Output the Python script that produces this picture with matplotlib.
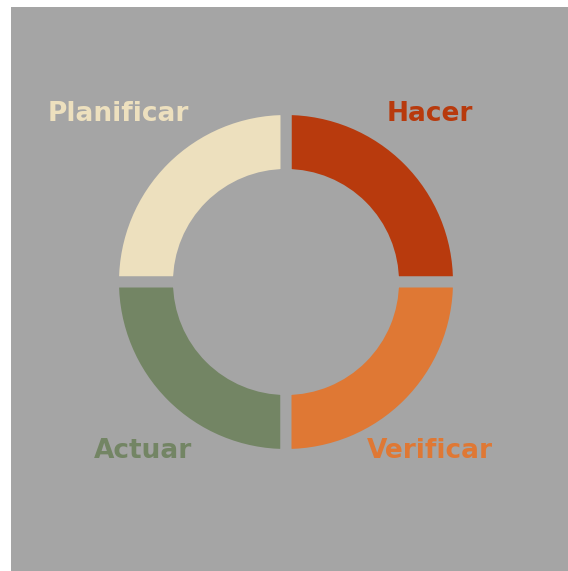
import matplotlib.pyplot as plt
from matplotlib.patches import Rectangle

# PDCA cycle, four equal parts
labels = ['Hacer', 'Planificar', 'Actuar', 'Verificar']
values = [25, 25, 25, 25]
colors = ['#b83a0d', '#ede0be', '#738564', '#df7834']

bg = '#a5a5a5'

fig = plt.figure(figsize=(5.68, 5.71), dpi=100)
fig.patch.set_facecolor('white')
fig.patches.append(Rectangle((11 / 568, 0), 1, 564 / 571, transform=fig.transFigure,
                             facecolor=bg, edgecolor='none', zorder=-5))

ax = fig.add_axes([0, 0, 1, 1])
ax.set_facecolor('none')

cx, cy = 286, 571 - 282
gap = 11
ax.pie(values, colors=colors, startangle=0, counterclock=True,
       radius=167 + gap / 2, center=(cx, cy),
       wedgeprops=dict(width=54 + gap, edgecolor=bg, linewidth=gap * 72 / 100))

ax.set_xlim(0, 568)
ax.set_ylim(0, 571)
ax.set_aspect('equal')
ax.axis('off')

# label positions around the ring
lab_x = [430, 118, 143, 430]
lab_y = [571 - 114, 571 - 114, 571 - 451, 571 - 451]
for t, x, y, c in zip(labels, lab_x, lab_y, colors):
    ax.text(x, y, t, color=c, fontsize=19, fontweight='bold',
            ha='center', va='center', family='DejaVu Sans')

plt.savefig('out.png', dpi=100)
